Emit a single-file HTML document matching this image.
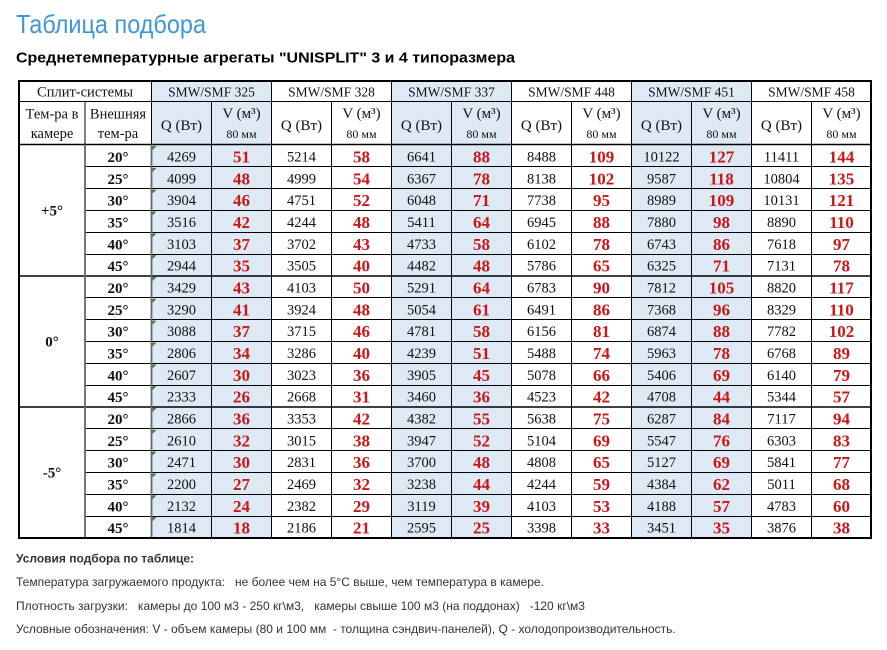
<!DOCTYPE html>
<html><head><meta charset="utf-8">
<style>
html,body{margin:0;padding:0;background:#fff;}
svg{display:block;}
.q{font-family:"Liberation Serif",serif;font-size:14.5px;text-anchor:middle;fill:#111;}
.v{font-family:"Liberation Serif",serif;font-size:17px;font-weight:bold;text-anchor:middle;fill:#cc1616;}
.t{font-family:"Liberation Serif",serif;font-size:15px;font-weight:bold;text-anchor:middle;fill:#111;}
.h{font-family:"Liberation Serif",serif;font-size:14.5px;text-anchor:middle;fill:#111;}
.hq{font-family:"Liberation Serif",serif;font-size:15px;text-anchor:middle;fill:#111;}
.hs{font-family:"Liberation Serif",serif;font-size:12px;text-anchor:middle;fill:#111;}
.m{font-family:"Liberation Serif",serif;font-size:13.5px;text-anchor:middle;fill:#111;}
.b{font-family:"Liberation Sans",sans-serif;font-size:12px;fill:#333;white-space:pre;}
</style></head><body>
<svg width="887" height="650" viewBox="0 0 887 650" xmlns="http://www.w3.org/2000/svg" xml:space="preserve">
<text x="16" y="33" font-family="Liberation Sans, sans-serif" font-size="26" fill="#4196d8" textLength="190" lengthAdjust="spacingAndGlyphs">Таблица подбора</text>
<text x="16" y="62.5" font-family="Liberation Sans, sans-serif" font-size="15" font-weight="bold" fill="#000" textLength="499" lengthAdjust="spacingAndGlyphs">Среднетемпературные агрегаты "UNISPLIT" 3 и 4 типоразмера</text>

<rect x="151.5" y="80.5" width="120" height="457.5" fill="#dde9f5"/>
<rect x="391.5" y="80.5" width="120" height="457.5" fill="#dde9f5"/>
<rect x="631.5" y="80.5" width="120" height="457.5" fill="#dde9f5"/>

<path d="M18.5 101.5H871.5 M85 166.5H871.5 M85 188.5H871.5 M85 210.5H871.5 M85 232.5H871.5 M85 254.5H871.5 M85 297.5H871.5 M85 319.5H871.5 M85 341.5H871.5 M85 363.5H871.5 M85 385.5H871.5 M85 428.5H871.5 M85 450.5H871.5 M85 472.5H871.5 M85 494.5H871.5 M85 516.5H871.5" stroke="#000" stroke-width="1" fill="none"/>
<path d="M18.5 144.5H871.5 M18.5 276H871.5 M18.5 407H871.5" stroke="#000" stroke-width="1.6" fill="none"/>
<path d="M211.5 101.5V538 M331.5 101.5V538 M451.5 101.5V538 M571.5 101.5V538 M691.5 101.5V538 M811.5 101.5V538 M271.5 80.5V538 M391.5 80.5V538 M511.5 80.5V538 M631.5 80.5V538 M751.5 80.5V538" stroke="#000" stroke-width="1" fill="none"/>
<path d="M151.5 80.5V144.5 M85 101.5V144.5" stroke="#000" stroke-width="1" fill="none"/>
<path d="M151.5 144.5V538 M85 144.5V538" stroke="#6a6a6a" stroke-width="1.8" fill="none"/>
<rect x="19" y="81" width="852" height="457" fill="none" stroke="#000" stroke-width="2"/>

<text class="h" x="85" y="96.5">Сплит-системы</text>
<text class="m" x="211.5" y="96.5">SMW/SMF 325</text>
<text class="m" x="331.5" y="96.5">SMW/SMF 328</text>
<text class="m" x="451.5" y="96.5">SMW/SMF 337</text>
<text class="m" x="571.5" y="96.5">SMW/SMF 448</text>
<text class="m" x="691.5" y="96.5">SMW/SMF 451</text>
<text class="m" x="811.5" y="96.5">SMW/SMF 458</text>
<text class="h" x="52" y="118.5">Тем-ра в</text>
<text class="h" x="52" y="138">камере</text>
<text class="h" x="118" y="118.5">Внешняя</text>
<text class="h" x="118" y="138">тем-ра</text>
<g>
<text class="hq" x="181.5" y="130">Q (Вт)</text><text class="hq" x="241.5" y="118">V (м³)</text><text class="hs" x="241.5" y="138">80 мм</text>
<text class="hq" x="301.5" y="130">Q (Вт)</text><text class="hq" x="361.5" y="118">V (м³)</text><text class="hs" x="361.5" y="138">80 мм</text>
<text class="hq" x="421.5" y="130">Q (Вт)</text><text class="hq" x="481.5" y="118">V (м³)</text><text class="hs" x="481.5" y="138">80 мм</text>
<text class="hq" x="541.5" y="130">Q (Вт)</text><text class="hq" x="601.5" y="118">V (м³)</text><text class="hs" x="601.5" y="138">80 мм</text>
<text class="hq" x="661.5" y="130">Q (Вт)</text><text class="hq" x="721.5" y="118">V (м³)</text><text class="hs" x="721.5" y="138">80 мм</text>
<text class="hq" x="781.5" y="130">Q (Вт)</text><text class="hq" x="841.5" y="118">V (м³)</text><text class="hs" x="841.5" y="138">80 мм</text>
</g>

<text class="t" x="52" y="215.5">+5°</text>
<text class="t" x="52" y="346.5">0°</text>
<text class="t" x="52" y="477.5">-5°</text>

<g transform="translate(0,145)"><path d="M152.5 1h4l-4 4z" fill="#2a8a2a"/><text class="t" x="118" y="17">20°</text><text class="q" x="181.5" y="16.5">4269</text><text class="v" x="241.5" y="17.5">51</text><text class="q" x="301.5" y="16.5">5214</text><text class="v" x="361.5" y="17.5">58</text><text class="q" x="421.5" y="16.5">6641</text><text class="v" x="481.5" y="17.5">88</text><text class="q" x="541.5" y="16.5">8488</text><text class="v" x="601.5" y="17.5">109</text><text class="q" x="661.5" y="16.5">10122</text><text class="v" x="721.5" y="17.5">127</text><text class="q" x="781.5" y="16.5">11411</text><text class="v" x="841.5" y="17.5">144</text></g>
<g transform="translate(0,166.83)"><path d="M152.5 1h4l-4 4z" fill="#2a8a2a"/><text class="t" x="118" y="17">25°</text><text class="q" x="181.5" y="16.5">4099</text><text class="v" x="241.5" y="17.5">48</text><text class="q" x="301.5" y="16.5">4999</text><text class="v" x="361.5" y="17.5">54</text><text class="q" x="421.5" y="16.5">6367</text><text class="v" x="481.5" y="17.5">78</text><text class="q" x="541.5" y="16.5">8138</text><text class="v" x="601.5" y="17.5">102</text><text class="q" x="661.5" y="16.5">9587</text><text class="v" x="721.5" y="17.5">118</text><text class="q" x="781.5" y="16.5">10804</text><text class="v" x="841.5" y="17.5">135</text></g>
<g transform="translate(0,188.67)"><path d="M152.5 1h4l-4 4z" fill="#2a8a2a"/><text class="t" x="118" y="17">30°</text><text class="q" x="181.5" y="16.5">3904</text><text class="v" x="241.5" y="17.5">46</text><text class="q" x="301.5" y="16.5">4751</text><text class="v" x="361.5" y="17.5">52</text><text class="q" x="421.5" y="16.5">6048</text><text class="v" x="481.5" y="17.5">71</text><text class="q" x="541.5" y="16.5">7738</text><text class="v" x="601.5" y="17.5">95</text><text class="q" x="661.5" y="16.5">8989</text><text class="v" x="721.5" y="17.5">109</text><text class="q" x="781.5" y="16.5">10131</text><text class="v" x="841.5" y="17.5">121</text></g>
<g transform="translate(0,210.5)"><path d="M152.5 1h4l-4 4z" fill="#2a8a2a"/><text class="t" x="118" y="17">35°</text><text class="q" x="181.5" y="16.5">3516</text><text class="v" x="241.5" y="17.5">42</text><text class="q" x="301.5" y="16.5">4244</text><text class="v" x="361.5" y="17.5">48</text><text class="q" x="421.5" y="16.5">5411</text><text class="v" x="481.5" y="17.5">64</text><text class="q" x="541.5" y="16.5">6945</text><text class="v" x="601.5" y="17.5">88</text><text class="q" x="661.5" y="16.5">7880</text><text class="v" x="721.5" y="17.5">98</text><text class="q" x="781.5" y="16.5">8890</text><text class="v" x="841.5" y="17.5">110</text></g>
<g transform="translate(0,232.33)"><path d="M152.5 1h4l-4 4z" fill="#2a8a2a"/><text class="t" x="118" y="17">40°</text><text class="q" x="181.5" y="16.5">3103</text><text class="v" x="241.5" y="17.5">37</text><text class="q" x="301.5" y="16.5">3702</text><text class="v" x="361.5" y="17.5">43</text><text class="q" x="421.5" y="16.5">4733</text><text class="v" x="481.5" y="17.5">58</text><text class="q" x="541.5" y="16.5">6102</text><text class="v" x="601.5" y="17.5">78</text><text class="q" x="661.5" y="16.5">6743</text><text class="v" x="721.5" y="17.5">86</text><text class="q" x="781.5" y="16.5">7618</text><text class="v" x="841.5" y="17.5">97</text></g>
<g transform="translate(0,254.17)"><path d="M152.5 1h4l-4 4z" fill="#2a8a2a"/><text class="t" x="118" y="17">45°</text><text class="q" x="181.5" y="16.5">2944</text><text class="v" x="241.5" y="17.5">35</text><text class="q" x="301.5" y="16.5">3505</text><text class="v" x="361.5" y="17.5">40</text><text class="q" x="421.5" y="16.5">4482</text><text class="v" x="481.5" y="17.5">48</text><text class="q" x="541.5" y="16.5">5786</text><text class="v" x="601.5" y="17.5">65</text><text class="q" x="661.5" y="16.5">6325</text><text class="v" x="721.5" y="17.5">71</text><text class="q" x="781.5" y="16.5">7131</text><text class="v" x="841.5" y="17.5">78</text></g>

<g transform="translate(0,276)"><path d="M152.5 1h4l-4 4z" fill="#2a8a2a"/><text class="t" x="118" y="17">20°</text><text class="q" x="181.5" y="16.5">3429</text><text class="v" x="241.5" y="17.5">43</text><text class="q" x="301.5" y="16.5">4103</text><text class="v" x="361.5" y="17.5">50</text><text class="q" x="421.5" y="16.5">5291</text><text class="v" x="481.5" y="17.5">64</text><text class="q" x="541.5" y="16.5">6783</text><text class="v" x="601.5" y="17.5">90</text><text class="q" x="661.5" y="16.5">7812</text><text class="v" x="721.5" y="17.5">105</text><text class="q" x="781.5" y="16.5">8820</text><text class="v" x="841.5" y="17.5">117</text></g>
<g transform="translate(0,297.83)"><path d="M152.5 1h4l-4 4z" fill="#2a8a2a"/><text class="t" x="118" y="17">25°</text><text class="q" x="181.5" y="16.5">3290</text><text class="v" x="241.5" y="17.5">41</text><text class="q" x="301.5" y="16.5">3924</text><text class="v" x="361.5" y="17.5">48</text><text class="q" x="421.5" y="16.5">5054</text><text class="v" x="481.5" y="17.5">61</text><text class="q" x="541.5" y="16.5">6491</text><text class="v" x="601.5" y="17.5">86</text><text class="q" x="661.5" y="16.5">7368</text><text class="v" x="721.5" y="17.5">96</text><text class="q" x="781.5" y="16.5">8329</text><text class="v" x="841.5" y="17.5">110</text></g>
<g transform="translate(0,319.67)"><path d="M152.5 1h4l-4 4z" fill="#2a8a2a"/><text class="t" x="118" y="17">30°</text><text class="q" x="181.5" y="16.5">3088</text><text class="v" x="241.5" y="17.5">37</text><text class="q" x="301.5" y="16.5">3715</text><text class="v" x="361.5" y="17.5">46</text><text class="q" x="421.5" y="16.5">4781</text><text class="v" x="481.5" y="17.5">58</text><text class="q" x="541.5" y="16.5">6156</text><text class="v" x="601.5" y="17.5">81</text><text class="q" x="661.5" y="16.5">6874</text><text class="v" x="721.5" y="17.5">88</text><text class="q" x="781.5" y="16.5">7782</text><text class="v" x="841.5" y="17.5">102</text></g>
<g transform="translate(0,341.5)"><path d="M152.5 1h4l-4 4z" fill="#2a8a2a"/><text class="t" x="118" y="17">35°</text><text class="q" x="181.5" y="16.5">2806</text><text class="v" x="241.5" y="17.5">34</text><text class="q" x="301.5" y="16.5">3286</text><text class="v" x="361.5" y="17.5">40</text><text class="q" x="421.5" y="16.5">4239</text><text class="v" x="481.5" y="17.5">51</text><text class="q" x="541.5" y="16.5">5488</text><text class="v" x="601.5" y="17.5">74</text><text class="q" x="661.5" y="16.5">5963</text><text class="v" x="721.5" y="17.5">78</text><text class="q" x="781.5" y="16.5">6768</text><text class="v" x="841.5" y="17.5">89</text></g>
<g transform="translate(0,363.33)"><path d="M152.5 1h4l-4 4z" fill="#2a8a2a"/><text class="t" x="118" y="17">40°</text><text class="q" x="181.5" y="16.5">2607</text><text class="v" x="241.5" y="17.5">30</text><text class="q" x="301.5" y="16.5">3023</text><text class="v" x="361.5" y="17.5">36</text><text class="q" x="421.5" y="16.5">3905</text><text class="v" x="481.5" y="17.5">45</text><text class="q" x="541.5" y="16.5">5078</text><text class="v" x="601.5" y="17.5">66</text><text class="q" x="661.5" y="16.5">5406</text><text class="v" x="721.5" y="17.5">69</text><text class="q" x="781.5" y="16.5">6140</text><text class="v" x="841.5" y="17.5">79</text></g>
<g transform="translate(0,385.17)"><path d="M152.5 1h4l-4 4z" fill="#2a8a2a"/><text class="t" x="118" y="17">45°</text><text class="q" x="181.5" y="16.5">2333</text><text class="v" x="241.5" y="17.5">26</text><text class="q" x="301.5" y="16.5">2668</text><text class="v" x="361.5" y="17.5">31</text><text class="q" x="421.5" y="16.5">3460</text><text class="v" x="481.5" y="17.5">36</text><text class="q" x="541.5" y="16.5">4523</text><text class="v" x="601.5" y="17.5">42</text><text class="q" x="661.5" y="16.5">4708</text><text class="v" x="721.5" y="17.5">44</text><text class="q" x="781.5" y="16.5">5344</text><text class="v" x="841.5" y="17.5">57</text></g>

<g transform="translate(0,407)"><path d="M152.5 1h4l-4 4z" fill="#2a8a2a"/><text class="t" x="118" y="17">20°</text><text class="q" x="181.5" y="16.5">2866</text><text class="v" x="241.5" y="17.5">36</text><text class="q" x="301.5" y="16.5">3353</text><text class="v" x="361.5" y="17.5">42</text><text class="q" x="421.5" y="16.5">4382</text><text class="v" x="481.5" y="17.5">55</text><text class="q" x="541.5" y="16.5">5638</text><text class="v" x="601.5" y="17.5">75</text><text class="q" x="661.5" y="16.5">6287</text><text class="v" x="721.5" y="17.5">84</text><text class="q" x="781.5" y="16.5">7117</text><text class="v" x="841.5" y="17.5">94</text></g>
<g transform="translate(0,428.83)"><path d="M152.5 1h4l-4 4z" fill="#2a8a2a"/><text class="t" x="118" y="17">25°</text><text class="q" x="181.5" y="16.5">2610</text><text class="v" x="241.5" y="17.5">32</text><text class="q" x="301.5" y="16.5">3015</text><text class="v" x="361.5" y="17.5">38</text><text class="q" x="421.5" y="16.5">3947</text><text class="v" x="481.5" y="17.5">52</text><text class="q" x="541.5" y="16.5">5104</text><text class="v" x="601.5" y="17.5">69</text><text class="q" x="661.5" y="16.5">5547</text><text class="v" x="721.5" y="17.5">76</text><text class="q" x="781.5" y="16.5">6303</text><text class="v" x="841.5" y="17.5">83</text></g>
<g transform="translate(0,450.67)"><path d="M152.5 1h4l-4 4z" fill="#2a8a2a"/><text class="t" x="118" y="17">30°</text><text class="q" x="181.5" y="16.5">2471</text><text class="v" x="241.5" y="17.5">30</text><text class="q" x="301.5" y="16.5">2831</text><text class="v" x="361.5" y="17.5">36</text><text class="q" x="421.5" y="16.5">3700</text><text class="v" x="481.5" y="17.5">48</text><text class="q" x="541.5" y="16.5">4808</text><text class="v" x="601.5" y="17.5">65</text><text class="q" x="661.5" y="16.5">5127</text><text class="v" x="721.5" y="17.5">69</text><text class="q" x="781.5" y="16.5">5841</text><text class="v" x="841.5" y="17.5">77</text></g>
<g transform="translate(0,472.5)"><path d="M152.5 1h4l-4 4z" fill="#2a8a2a"/><text class="t" x="118" y="17">35°</text><text class="q" x="181.5" y="16.5">2200</text><text class="v" x="241.5" y="17.5">27</text><text class="q" x="301.5" y="16.5">2469</text><text class="v" x="361.5" y="17.5">32</text><text class="q" x="421.5" y="16.5">3238</text><text class="v" x="481.5" y="17.5">44</text><text class="q" x="541.5" y="16.5">4244</text><text class="v" x="601.5" y="17.5">59</text><text class="q" x="661.5" y="16.5">4384</text><text class="v" x="721.5" y="17.5">62</text><text class="q" x="781.5" y="16.5">5011</text><text class="v" x="841.5" y="17.5">68</text></g>
<g transform="translate(0,494.33)"><path d="M152.5 1h4l-4 4z" fill="#2a8a2a"/><text class="t" x="118" y="17">40°</text><text class="q" x="181.5" y="16.5">2132</text><text class="v" x="241.5" y="17.5">24</text><text class="q" x="301.5" y="16.5">2382</text><text class="v" x="361.5" y="17.5">29</text><text class="q" x="421.5" y="16.5">3119</text><text class="v" x="481.5" y="17.5">39</text><text class="q" x="541.5" y="16.5">4103</text><text class="v" x="601.5" y="17.5">53</text><text class="q" x="661.5" y="16.5">4188</text><text class="v" x="721.5" y="17.5">57</text><text class="q" x="781.5" y="16.5">4783</text><text class="v" x="841.5" y="17.5">60</text></g>
<g transform="translate(0,516.17)"><path d="M152.5 1h4l-4 4z" fill="#2a8a2a"/><text class="t" x="118" y="17">45°</text><text class="q" x="181.5" y="16.5">1814</text><text class="v" x="241.5" y="17.5">18</text><text class="q" x="301.5" y="16.5">2186</text><text class="v" x="361.5" y="17.5">21</text><text class="q" x="421.5" y="16.5">2595</text><text class="v" x="481.5" y="17.5">25</text><text class="q" x="541.5" y="16.5">3398</text><text class="v" x="601.5" y="17.5">33</text><text class="q" x="661.5" y="16.5">3451</text><text class="v" x="721.5" y="17.5">35</text><text class="q" x="781.5" y="16.5">3876</text><text class="v" x="841.5" y="17.5">38</text></g>

<text class="b" x="16" y="562.5" font-weight="bold" fill="#222">Условия подбора по таблице:</text>
<text class="b" x="16" y="586">Температура загружаемого продукта:   не более чем на 5°С выше, чем температура в камере.</text>
<text class="b" x="16" y="610">Плотность загрузки:   камеры до 100 м3 - 250 кг\м3,   камеры свыше 100 м3 (на поддонах)   -120 кг\м3</text>
<text class="b" x="16" y="633">Условные обозначения: V - объем камеры (80 и 100 мм  - толщина сэндвич-панелей), Q - холодопроизводительность.</text>
</svg>
</body></html>
